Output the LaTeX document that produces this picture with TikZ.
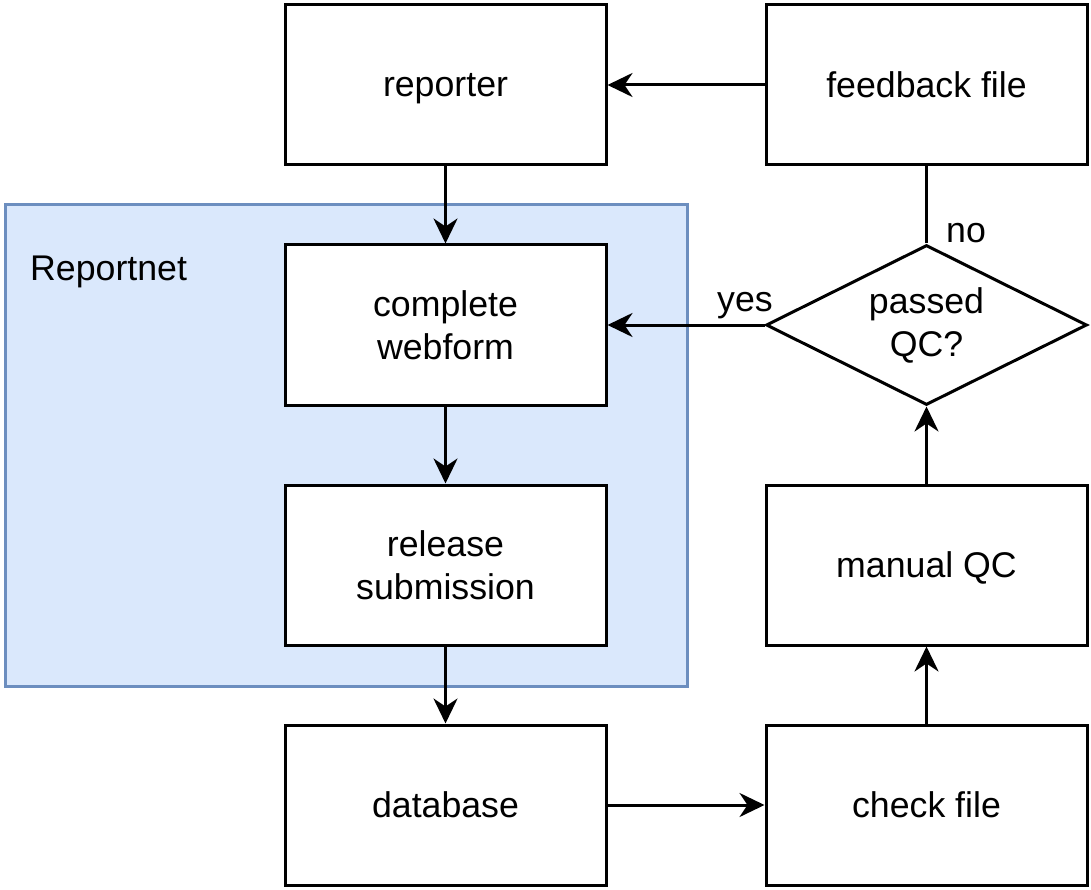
\documentclass[tikz,border=0pt]{standalone}
\usepackage{fontspec}
\setmainfont{Liberation Sans}
\usetikzlibrary{arrows.meta,shapes.geometric}
\definecolor{grpfill}{HTML}{DAE8FC}
\definecolor{grpdraw}{HTML}{6C8EBF}
\tikzset{
  box/.style={draw=black, line width=3pt, fill=white, minimum width=321pt, minimum height=160pt, inner sep=0pt, align=center, font=\fontsize{35.7}{43}\selectfont},
  decision/.style={draw=black, line width=3pt, fill=white, diamond, aspect=2, minimum width=321pt, minimum height=160pt, inner sep=0pt, align=center, font=\fontsize{35.7}{43}\selectfont},
  conn/.style={line width=3pt, -{Stealth[length=25pt, width=24pt, inset=8pt]}},
  plainconn/.style={line width=3pt},
  lbl/.style={font=\fontsize{35.7}{43}\selectfont, inner sep=0pt}
}
\begin{document}
\begin{tikzpicture}[x=1pt,y=-1pt]
\useasboundingbox (0,0) rectangle (1091,890);
\node[draw=grpdraw, fill=grpfill, line width=3pt, minimum width=682pt, minimum height=481pt, inner sep=0pt] (grp) at (346,445.5) {};
\node[lbl, anchor=west] (grplbl) at (30,272) {Reportnet};
\node[box] (reporter) at (445.5,85) {\raisebox{0pt}[\height][0pt]{reporter}};
\node[box] (feedback) at (926.5,85) {feedback file};
\node[box] (webform) at (445.5,325) {complete\\webform};
\node[box] (release) at (445.5,565) {release\\submission};
\node[box] (database) at (445.5,805) {database};
\node[box] (check) at (926.5,805) {check file};
\node[box] (manual) at (926.5,565) {\raisebox{0pt}[\height][0pt]{manual QC}};
\node[decision] (qc) at (926.5,325) {passed\\QC?};
\draw[conn] (feedback.west) -- (reporter.east);
\draw[conn] (reporter.south) -- (webform.north);
\draw[conn] (webform.south) -- (release.north);
\draw[conn] (release.south) -- (database.north);
\draw[conn] (database.east) -- (check.west);
\draw[conn] (check.north) -- (manual.south);
\draw[conn] (manual.north) -- (qc.south);
\draw[conn] (qc.west) -- (webform.east);
\draw[plainconn] (qc.north) -- (feedback.south);
\node[lbl] (yes) at (745,302) {\raisebox{0pt}[\height][0pt]{yes}};
\node[lbl] (no) at (966,233) {no};
\end{tikzpicture}
\end{document}
